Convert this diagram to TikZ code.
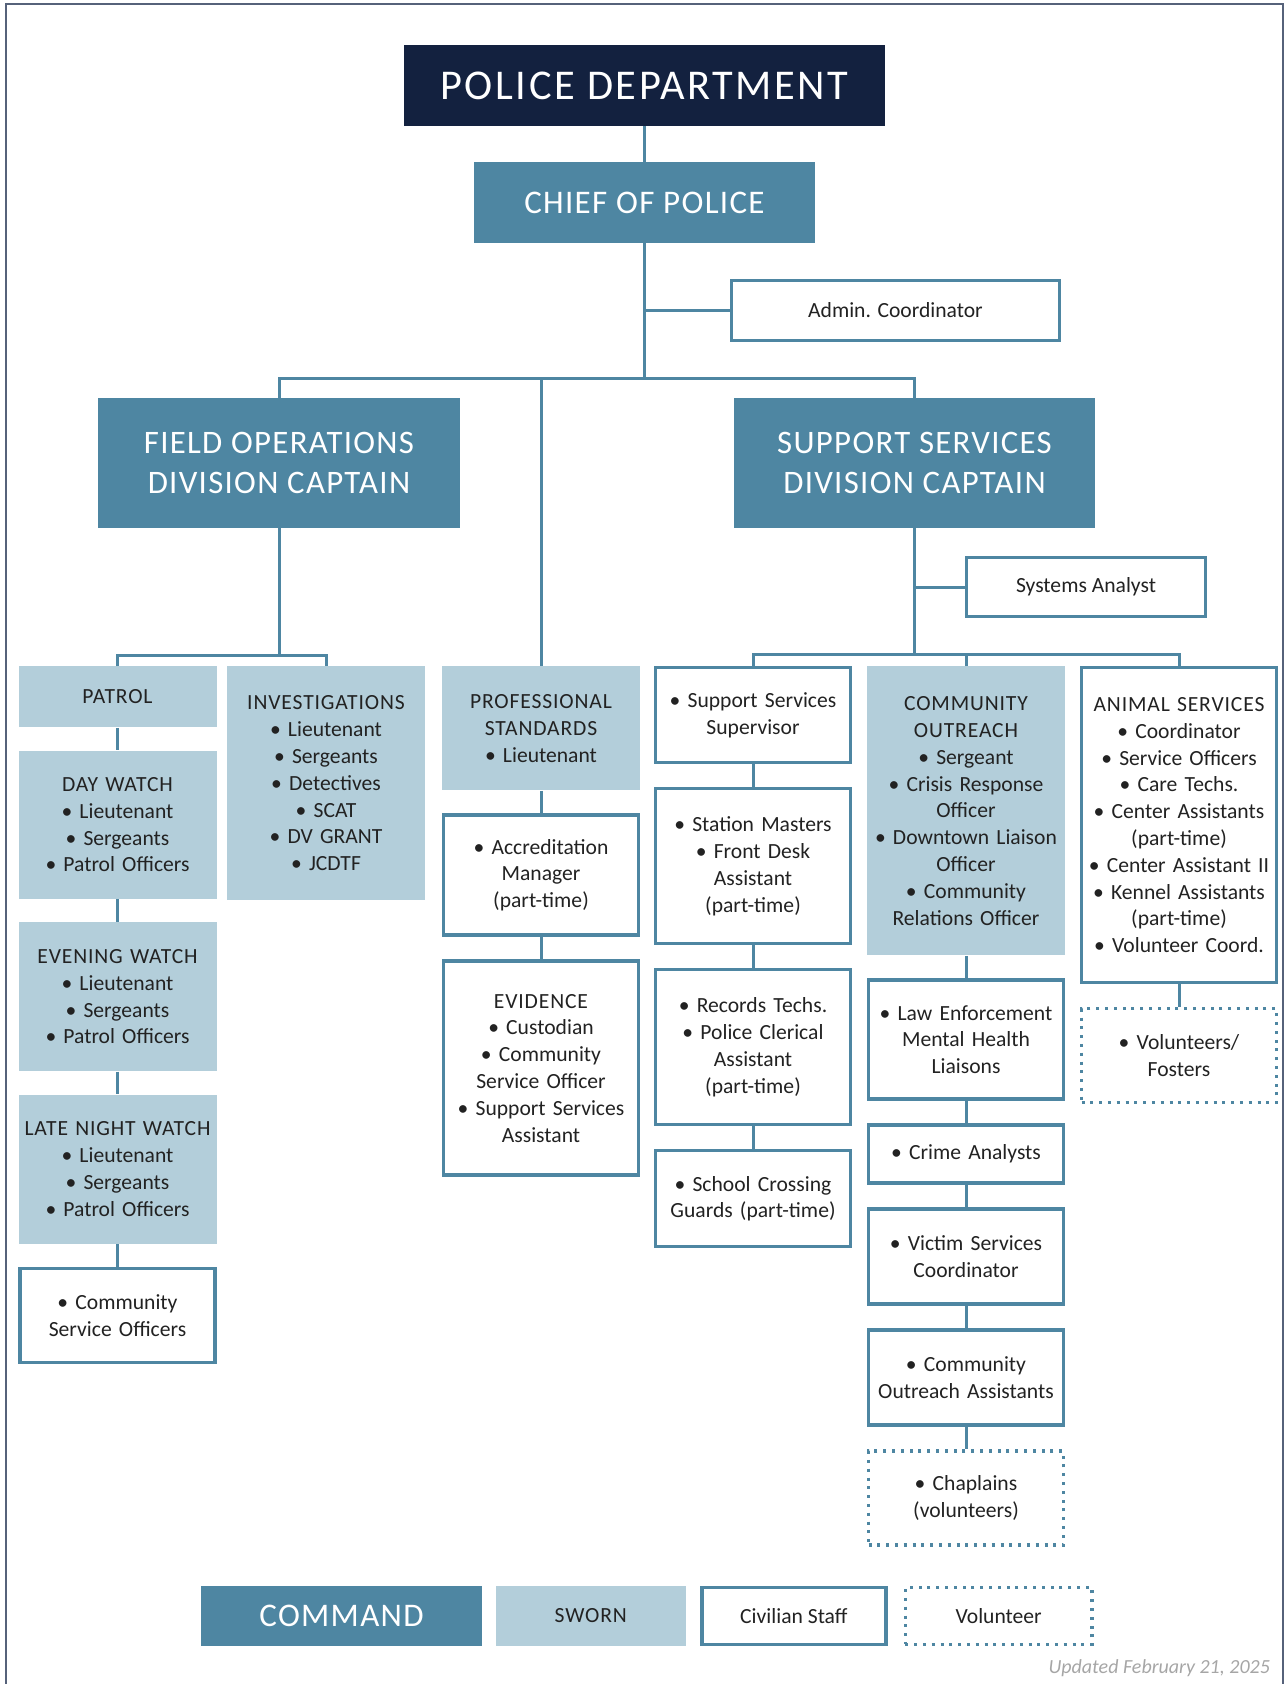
\documentclass[tikz,border=0pt]{standalone}
\usepackage{fontspec}
\setmainfont{Carlito}
\newfontfamily\hdfont[LetterSpace=4]{Carlito}
\newfontfamily\pdfont[LetterSpace=6]{Carlito}
\usetikzlibrary{positioning}
\definecolor{navy}{HTML}{13213F}
\definecolor{cmdblue}{HTML}{4E86A2}
\definecolor{swornblue}{HTML}{B3CEDA}
\definecolor{txtdark}{HTML}{222222}
\definecolor{framegray}{HTML}{56627A}
\newcommand{\bul}{\textbullet\ }
\newcommand{\unithead}[1]{{\hdfont #1}}

\begin{document}
\begin{tikzpicture}[x=0.5pt,y=-0.5pt,node distance=11.3pt]
  \tikzstyle{cell}=[rectangle,inner xsep=1pt,inner ysep=0pt,align=center,text=txtdark,font=\fontsize{10.8}{13.4}\selectfont]
  \tikzstyle{command}=[rectangle,fill=cmdblue,text=white,inner sep=0pt,align=center,font=\hdfont]
  \tikzstyle{sworn}=[cell,fill=swornblue,text width=97pt]
  \tikzstyle{civbox}=[cell,draw=cmdblue,line width=1.7pt,fill=white]
  \tikzstyle{volbox}=[cell,draw=cmdblue,line width=1.7pt,dash pattern=on 1.5pt off 2.9pt]
  \tikzstyle{civilian}=[civbox,text width=95.5pt]
  \tikzstyle{volunteer}=[volbox,text width=95.5pt]
  \tikzstyle{link}=[draw=cmdblue,line width=1.5pt]

  \useasboundingbox (0,0) rectangle (1286,1684);
  \draw[framegray,line width=1.2pt] (6,1684) -- (6,4) -- (1283,4) -- (1283,1684);

  \node[command,fill=navy,minimum width=240.5pt,minimum height=40.5pt,font=\pdfont\fontsize{21.2}{24}\selectfont] (pd) at (644.5,85.5) {POLICE DEPARTMENT};
  \node[command,minimum width=170.5pt,minimum height=40.5pt,font=\hdfont\fontsize{16.5}{20}\selectfont] (chief) at (644.5,202.5) {CHIEF OF POLICE};
  \node[civbox,minimum width=164pt,minimum height=30pt] (admin) at (895.5,310.5) {Admin. Coordinator};
  \node[command,minimum width=181pt,minimum height=65pt,font=\hdfont\fontsize{16.4}{20}\selectfont] (fieldops) at (279,463) {FIELD OPERATIONS\\DIVISION CAPTAIN};
  \node[command,minimum width=180.5pt,minimum height=65pt,font=\hdfont\fontsize{16.4}{20}\selectfont] (support) at (914.5,463) {SUPPORT SERVICES\\DIVISION CAPTAIN};
  \node[civbox,minimum width=119.5pt,minimum height=29.5pt] (analyst) at (1086,587) {Systems Analyst};

  % field operations
  \node[sworn,minimum height=30.5pt,anchor=north] (patrol) at (117.5,666) {\unithead{PATROL}};
  \node[sworn,minimum height=74pt]   (daywatch)  [below=of patrol]   {\unithead{DAY WATCH}\\\bul Lieutenant\\\bul Sergeants\\\bul Patrol Officers};
  \node[sworn,minimum height=74.5pt] (evewatch)  [below=of daywatch] {\unithead{EVENING WATCH}\\\bul Lieutenant\\\bul Sergeants\\\bul Patrol Officers};
  \node[sworn,minimum height=74.5pt] (latewatch) [below=of evewatch] {\unithead{LATE NIGHT WATCH}\\\bul Lieutenant\\\bul Sergeants\\\bul Patrol Officers};
  \node[civilian,minimum height=47pt] (cso) [below=of latewatch] {\bul Community\\Service Officers};

  \node[sworn,minimum height=117pt,anchor=north] (invest) at (326,666) {\unithead{INVESTIGATIONS}\\\bul Lieutenant\\\bul Sergeants\\\bul Detectives\\\bul SCAT\\\bul DV GRANT\\\bul JCDTF};

  % professional standards
  \node[sworn,minimum height=62pt,anchor=north] (prof) at (541,666) {\unithead{PROFESSIONAL}\\\unithead{STANDARDS}\\\bul Lieutenant};
  \node[civilian,minimum height=60pt]  (accred)   [below=of prof]   {\bul Accreditation\\Manager\\(part-time)};
  \node[civilian,minimum height=107pt] (evidence) [below=of accred] {\unithead{EVIDENCE}\\\bul Custodian\\\bul Community\\Service Officer\\\bul Support Services\\Assistant};

  % support services
  \node[civilian,minimum height=47.5pt,anchor=north] (sss) at (753,666) {\bul Support Services\\Supervisor};
  \node[civilian,minimum height=77.5pt] (station)  [below=of sss]     {\bul Station Masters\\\bul Front Desk\\Assistant\\(part-time)};
  \node[civilian,minimum height=77.5pt] (records)  [below=of station] {\bul Records Techs.\\\bul Police Clerical\\Assistant\\(part-time)};
  \node[civilian,minimum height=48pt]   (crossing) [below=of records] {\bul School Crossing\\Guards (part-time)};

  \node[sworn,minimum height=144.5pt,anchor=north] (outreach) at (966,666) {\unithead{COMMUNITY}\\\unithead{OUTREACH}\\\bul Sergeant\\\bul Crisis Response\\Officer\\\bul Downtown Liaison\\Officer\\\bul Community\\Relations Officer};
  \node[civilian,minimum height=59.5pt] (lemh)     [below=of outreach] {\bul Law Enforcement\\Mental Health\\Liaisons};
  \node[civilian,minimum height=29pt]   (crime)    [below=of lemh]     {\bul Crime Analysts};
  \node[civilian,minimum height=47.5pt] (victim)   [below=of crime]    {\bul Victim Services\\Coordinator};
  \node[civilian,minimum height=47.5pt] (coa)      [below=of victim]   {\bul Community\\Outreach Assistants};
  \node[volunteer,minimum height=47pt]  (chaplain) [below=of coa]      {\bul Chaplains\\(volunteers)};

  \node[civilian,minimum height=157.5pt,anchor=north] (animal) at (1179,666) {\unithead{ANIMAL SERVICES}\\\bul Coordinator\\\bul Service Officers\\\bul Care Techs.\\\bul Center Assistants\\(part-time)\\\bul Center Assistant II\\\bul Kennel Assistants\\(part-time)\\\bul Volunteer Coord.};
  \node[volunteer,minimum height=47pt] (volfost) [below=of animal] {\bul Volunteers/\\Fosters};

  % key
  \node[command,minimum width=140.5pt,minimum height=30pt,font=\hdfont\fontsize{16.5}{20}\selectfont] (keycmd) at (341.5,1616) {COMMAND};
  \node[cell,fill=swornblue,minimum width=95pt,minimum height=30pt,right=6.5pt of keycmd] (keysworn) {\unithead{SWORN}};
  \node[civbox,minimum width=92pt,minimum height=28.3pt,right=7pt of keysworn] (keycivil) {Civilian Staff};
  \node[volbox,minimum width=93.3pt,minimum height=28.3pt,right=8pt of keycivil] (keyvol) {Volunteer};
  \node[anchor=east,text=gray!70,font=\itshape\fontsize{10}{12}\selectfont] (stamp) at (1277,1668) {Updated February 21, 2025};

  \coordinate (topbus)   at (644.5,379);
  \coordinate (fieldbus) at (279,655);
  \coordinate (supbus)   at (914.5,654);

  \draw[link] (chief) -- (topbus);
  \draw[link] (admin) -- (admin -| topbus);
  \draw[link] (fieldops) |- (topbus) -| (support);
  \draw[link] (topbus -| prof) -- (prof);
  \draw[link] (fieldops) -- (fieldbus);
  \draw[link] (patrol) |- (fieldbus) -| (invest);
  \draw[link] (support) -- (supbus);
  \draw[link] (analyst) -- (analyst -| supbus);
  \draw[link] (sss) |- (supbus) -| (animal);
  \draw[link] (outreach) -- (outreach |- supbus);

  \path[link] (pd) edge (chief)
        (patrol) edge (daywatch)
        (daywatch) edge (evewatch)
        (evewatch) edge (latewatch)
        (latewatch) edge (cso)
        (prof) edge (accred)
        (accred) edge (evidence)
        (sss) edge (station)
        (station) edge (records)
        (records) edge (crossing)
        (outreach) edge (lemh)
        (lemh) edge (crime)
        (crime) edge (victim)
        (victim) edge (coa)
        (coa) edge (chaplain)
        (animal) edge (volfost);
\end{tikzpicture}
\end{document}
